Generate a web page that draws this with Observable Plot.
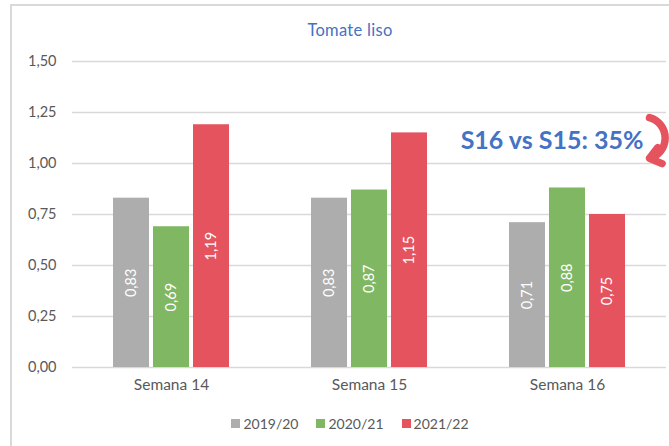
<!DOCTYPE html>
<html>
<head>
<meta charset="utf-8">
<script src="https://cdn.jsdelivr.net/npm/d3@7"></script>
<script src="https://cdn.jsdelivr.net/npm/@observablehq/plot@0.6"></script>
<style>
  html, body { margin: 0; padding: 0; background: #fff; width: 669px; height: 446px; overflow: hidden; }
  body { position: relative; font-family: Lato, "Open Sans", sans-serif; }
  #frame { position: absolute; left: 10px; top: 4px; width: 720px; height: 520px;
           border-left: 2px solid #d9d9d9; border-top: 2px solid #d9d9d9; box-sizing: border-box; }
  #title { position: relative; height: 50px; box-sizing: border-box; padding-top: 20px; padding-left: 31px;
           text-align: center; font-size: 16.5px; line-height: 20px; color: #4472C4; letter-spacing: 0.3px; }
  #chart { position: relative; height: 350px; }
  #legend { position: relative; height: 46px; display: flex; justify-content: center; align-items: center;
            padding-left: 31px; box-sizing: border-box; font-size: 14px; color: #595959; gap: 18px; }
  .item { display: flex; align-items: center; gap: 3px; }
  .sw { width: 9px; height: 9px; display: inline-block; }
</style>
</head>
<body>
<div id="frame"></div>
<div id="title">Tomate liso</div>
<div id="chart"></div>
<div id="legend"></div>
<script>
const weeks = ["Semana 14", "Semana 15", "Semana 16"];
const seasons = ["2019/20", "2020/21", "2021/22"];
const colors = ["#ADADAD", "#80B762", "#E5535F"];
const values2019 = [0.83, 0.83, 0.71];
const values2020 = [0.69, 0.87, 0.88];
const values2021 = [1.19, 1.15, 0.75];
const yTicks = [0, 0.25, 0.5, 0.75, 1.0, 1.25, 1.5];
const annotationText = "S16 vs S15: 35%";
const annotationWeek = "Semana 16";
const arrowColor = "#E5535F";

const seriesValues = [values2019, values2020, values2021];
const data = [];
weeks.forEach((w, i) => seasons.forEach((s, j) => data.push({week: w, season: s, value: seriesValues[j][i]})));

const comma = v => d3.format(".2f")(v).replace(".", ",");

const plot = Plot.plot({
  width: 669,
  height: 350,
  marginLeft: 71,
  marginRight: 3,
  marginTop: 11,
  marginBottom: 33,
  style: {fontFamily: "Lato, 'Open Sans', sans-serif", color: "#595959", background: "transparent"},
  fx: {domain: weeks, padding: 0, label: null},
  x: {domain: seasons, paddingInner: 0.1, paddingOuter: 1, axis: null},
  y: {domain: [0, 1.5], ticks: yTicks, label: null},
  color: {domain: seasons, range: colors},
  marks: [
    Plot.gridY(yTicks, {stroke: "#d9d9d9", strokeOpacity: 1, strokeWidth: 1.5}),
    Plot.axisY(yTicks, {tickSize: 0, tickPadding: 16, tickFormat: comma, fontSize: 14.5, fill: "#595959", label: null}),
    Plot.axisFx({anchor: "bottom", tickSize: 0, tickPadding: 11, fontSize: 15.5, fill: "#595959", label: null}),
    Plot.barY(data, {fx: "week", x: "season", y: "value", fill: "season"}),
    Plot.text(data, {fx: "week", x: "season", y: d => d.value / 2, text: d => comma(d.value),
      rotate: -90, fill: "white", fontSize: 14.5}),
    Plot.text([{week: annotationWeek, y: 1.11}], {fx: "week", y: "y", frameAnchor: "right", textAnchor: "end",
      text: () => annotationText, fill: "#4472C4", fontSize: 25, fontWeight: "bold", dx: -23, ariaLabel: "annotation"}),
    Plot.arrow([{week: annotationWeek, season: "2021/22", y1: 1.225, y2: 1.025}], {fx: "week", x: "season",
      y1: "y1", y2: "y2", bend: 75, stroke: arrowColor, strokeWidth: 7.5, headLength: 13, headAngle: 75})
  ]
});
document.getElementById("chart").appendChild(plot);

plot.querySelectorAll('g[aria-label="annotation"] text').forEach(t => t.style.letterSpacing = "3.4px");
plot.querySelectorAll('g[aria-label="arrow"] path, path[stroke="' + arrowColor + '"]').forEach(p => {
  p.setAttribute("transform", ((p.getAttribute("transform") || "") + " translate(42,0)").trim());
});

const legend = document.getElementById("legend");
seasons.forEach((s, i) => {
  const it = document.createElement("span");
  it.className = "item";
  const sw = document.createElement("span");
  sw.className = "sw";
  sw.style.background = colors[i];
  it.appendChild(sw);
  it.appendChild(document.createTextNode(s));
  legend.appendChild(it);
});
</script>
</body>
</html>
